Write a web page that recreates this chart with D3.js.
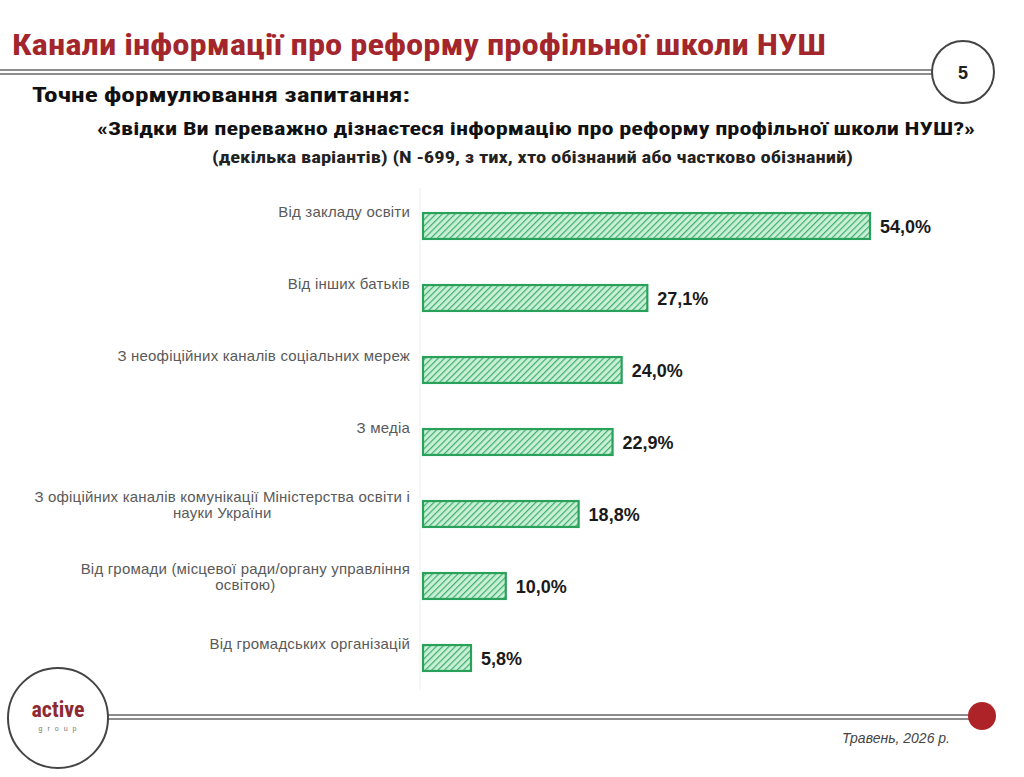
<!DOCTYPE html>
<html>
<head>
<meta charset="utf-8">
<script src="https://cdn.jsdelivr.net/npm/d3@7"></script>
<style>
  body { margin: 0; background: #fff; }
  svg { display: block; }
</style>
</head>
<body>
<div id="chart"></div>
<script>
// Chart data
const categories = [
  ['Від закладу освіти'],
  ['Від інших батьків'],
  ['З неофіційних каналів соціальних мереж'],
  ['З медіа'],
  ['З офіційних каналів комунікації Міністерства освіти і', 'науки України'],
  ['Від громади (місцевої ради/органу управління', 'освітою)'],
  ['Від громадських організацій']
];
const values = [54.0, 27.1, 24.0, 22.9, 18.8, 10.0, 5.8];

const titleText = 'Канали інформації про реформу профільної школи НУШ';
const questionLabel = 'Точне формулювання запитання:';
const questionText = '«Звідки Ви переважно дізнаєтеся інформацію про реформу профільної школи НУШ?»';
const noteText = '(декілька варіантів) (N -699, з тих, хто обізнаний або частково обізнаний)';
const dateText = 'Травень, 2026 р.';
const pageNum = '5';

const W = 1024, H = 777;
const narrow = '"Liberation Sans Narrow", "Arial Narrow", "Roboto Condensed", Arial, sans-serif';
const sans = '"Liberation Sans", Arial, sans-serif';

const svg = d3.select('#chart').append('svg')
  .attr('width', W)
  .attr('height', H);

// Hatch pattern for the bars
const defs = svg.append('defs');
const pat = defs.append('pattern')
  .attr('id', 'hatch')
  .attr('patternUnits', 'userSpaceOnUse')
  .attr('width', 4.5)
  .attr('height', 4.5)
  .attr('patternTransform', 'rotate(45)');
pat.append('rect').attr('width', 4.5).attr('height', 4.5).attr('fill', '#c9f0d6');
pat.append('line')
  .attr('x1', 0).attr('y1', 0).attr('x2', 0).attr('y2', 4.5)
  .attr('stroke', '#3fae6c')
  .attr('stroke-width', 2.4);

// stretch text to the width it has in the slide
function fit(sel, len) {
  sel.attr('textLength', len).attr('lengthAdjust', 'spacingAndGlyphs');
}

// Header
svg.append('text')
  .attr('x', 12)
  .attr('y', 55)
  .attr('fill', '#a3262c')
  .attr('font-family', narrow)
  .attr('font-weight', 'bold')
  .attr('font-size', '29px')
  .text(titleText)
  .call(fit, 814);

// Header line (double) ending in page circle
[70, 74].forEach(yy => {
  svg.append('line')
    .attr('x1', 0).attr('x2', 932)
    .attr('y1', yy).attr('y2', yy)
    .attr('stroke', '#666')
    .attr('stroke-width', 1.5);
});
svg.append('circle')
  .attr('cx', 963).attr('cy', 72).attr('r', 31)
  .attr('fill', '#fff')
  .attr('stroke', '#444')
  .attr('stroke-width', 2);
svg.append('text')
  .attr('x', 963).attr('y', 79)
  .attr('text-anchor', 'middle')
  .attr('font-family', sans)
  .attr('font-weight', 'bold')
  .attr('font-size', '18px')
  .attr('fill', '#222')
  .text(pageNum);

svg.append('text')
  .attr('x', 32).attr('y', 102)
  .attr('font-family', narrow)
  .attr('font-weight', 'bold')
  .attr('font-size', '21px')
  .attr('fill', '#111')
  .text(questionLabel)
  .call(fit, 378);

svg.append('text')
  .attr('x', 97).attr('y', 135)
  .attr('font-family', narrow)
  .attr('font-weight', 'bold')
  .attr('font-size', '19px')
  .attr('fill', '#111')
  .text(questionText)
  .call(fit, 878);

svg.append('text')
  .attr('x', 212).attr('y', 163)
  .attr('font-family', narrow)
  .attr('font-weight', 'bold')
  .attr('font-size', '16px')
  .attr('fill', '#222')
  .text(noteText)
  .call(fit, 641);

// Scales
const x0 = 423;
const x = d3.scaleLinear()
  .domain([0, 54])
  .range([x0, 870]);

const y = d3.scaleBand()
  .domain(d3.range(values.length))
  .range([190, 694])
  .paddingInner(0.64)
  .paddingOuter(0.32);

// Faint axis line
svg.append('line')
  .attr('x1', x0 - 3).attr('x2', x0 - 3)
  .attr('y1', 188).attr('y2', 690)
  .attr('stroke', '#eeeeee')
  .attr('stroke-width', 1);

// Bars
svg.selectAll('.bar')
  .data(values)
  .enter()
  .append('rect')
  .attr('class', 'bar')
  .attr('x', x(0))
  .attr('y', (d, i) => y(i))
  .attr('width', d => x(d) - x(0))
  .attr('height', y.bandwidth())
  .attr('fill', 'url(#hatch)')
  .attr('stroke', '#2aa15b')
  .attr('stroke-width', 2.2);

// Value labels
svg.selectAll('.val')
  .data(values)
  .enter()
  .append('text')
  .attr('class', 'val')
  .attr('x', d => x(d) + 10)
  .attr('y', (d, i) => y(i) + y.bandwidth() / 2 + 7)
  .attr('font-family', sans)
  .attr('font-weight', 'bold')
  .attr('font-size', '18px')
  .attr('fill', '#1a1a1a')
  .text(d => d3.format('.1f')(d).replace('.', ',') + '%');

// Category labels: block right-aligned at 410, lines centred within it
categories.forEach((lines, i) => {
  const cy = y(i) + y.bandwidth() / 2;
  const t = svg.append('text')
    .attr('text-anchor', 'middle')
    .attr('font-family', sans)
    .attr('font-size', '15px')
    .attr('letter-spacing', '0.2px')
    .attr('fill', '#5a5a5a');
  const top = cy - 14 - (lines.length - 1) * 3;
  const spans = lines.map((ln, j) => t.append('tspan')
    .attr('y', top + j * 16 + 5)
    .text(ln));
  const w = d3.max(spans, s => s.node().getComputedTextLength());
  spans.forEach(s => s.attr('x', 410 - w / 2));
});

// Footer
[715, 719].forEach(yy => {
  svg.append('line')
    .attr('x1', 108).attr('x2', 975)
    .attr('y1', yy).attr('y2', yy)
    .attr('stroke', '#666')
    .attr('stroke-width', 1.5);
});
svg.append('circle')
  .attr('cx', 58).attr('cy', 718).attr('r', 50)
  .attr('fill', '#fff')
  .attr('stroke', '#444')
  .attr('stroke-width', 2);
svg.append('text')
  .attr('x', 58).attr('y', 717)
  .attr('text-anchor', 'middle')
  .attr('font-family', narrow)
  .attr('font-weight', 'bold')
  .attr('font-size', '22px')
  .attr('fill', '#8e2a31')
  .text('active');
svg.append('text')
  .attr('x', 60).attr('y', 731)
  .attr('text-anchor', 'middle')
  .attr('font-family', sans)
  .attr('font-size', '7px')
  .attr('letter-spacing', '5px')
  .attr('fill', '#777')
  .text('group');
svg.append('circle')
  .attr('cx', 982).attr('cy', 716).attr('r', 14)
  .attr('fill', '#ad2328');

svg.append('text')
  .attr('x', 950).attr('y', 743)
  .attr('text-anchor', 'end')
  .attr('font-family', sans)
  .attr('font-style', 'italic')
  .attr('font-size', '14px')
  .attr('fill', '#444')
  .text(dateText);
</script>
</body>
</html>
